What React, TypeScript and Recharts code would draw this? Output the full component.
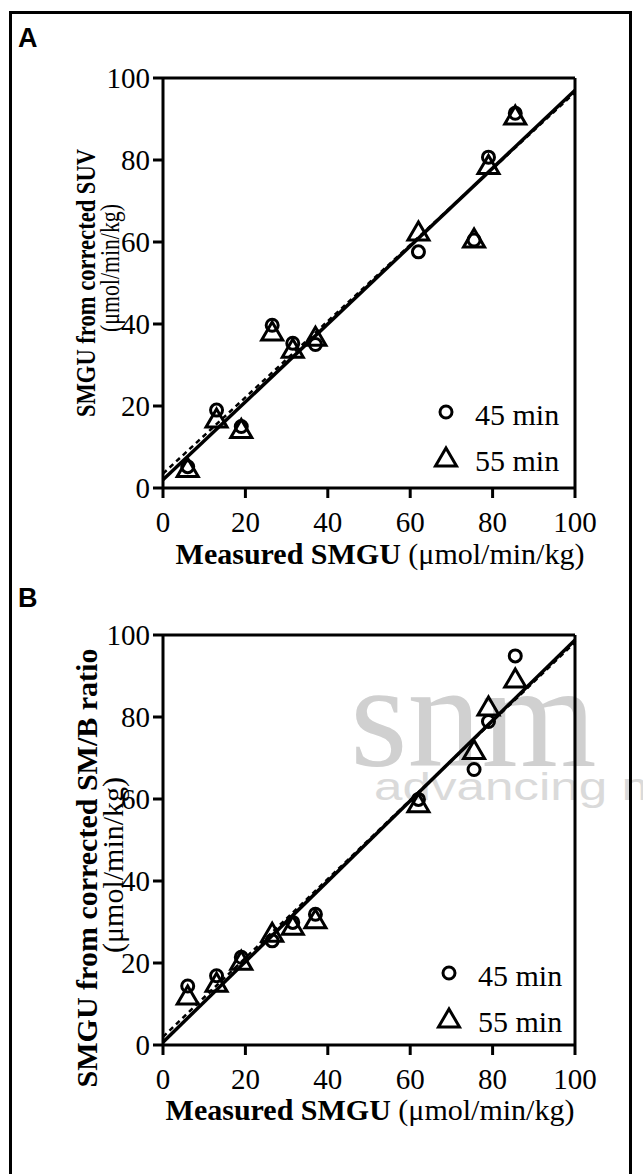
import React from 'react';
import { ScatterChart, Scatter, XAxis, YAxis, ReferenceLine } from 'recharts';

// measured SMGU (x) shared by both panels
const measured = [6, 13, 19, 26.5, 31.5, 37, 62, 75.5, 79, 85.5];

// panel A: SMGU from corrected SUV
const suv45 = [5.2, 19, 15, 39.7, 35.3, 35, 57.6, 60.5, 80.7, 91.4];
const suv55 = [4.5, 16.6, 14, 37.8, 33.6, 36.5, 62.2, 60.5, 78.4, 90.5];

// panel B: SMGU from corrected SM/B ratio
const ratio45 = [14.4, 16.9, 21.4, 25.4, 29.9, 31.9, 59.9, 67.2, 78.9, 94.9];
const ratio55 = [11.7, 14.8, 20.2, 27, 28.7, 30.3, 58.6, 71.6, 82.2, 89];

// regression lines (solid = 45 min, dashed = 55 min)
const suvFitSolid = [{ x: 0, y: 2 }, { x: 100, y: 97 }];
const suvFitDashed = [{ x: 0, y: 3.5 }, { x: 100, y: 96.5 }];
const ratioFitSolid = [{ x: 0, y: 0.7 }, { x: 100, y: 98.8 }];
const ratioFitDashed = [{ x: 0, y: 2 }, { x: 100, y: 98.2 }];

const axisTicks = [0, 20, 40, 60, 80, 100];
const seriesNames = ['45 min', '55 min'];

const serif = '"Liberation Serif", "Times New Roman", serif';
const sans = '"Liberation Sans", Arial, sans-serif';

const toPoints = (ys: number[]) => measured.map((x, i) => ({ x, y: ys[i] }));

const CircleMark = (props: any) => (
  <circle cx={props.cx} cy={props.cy} r={6} fill="none" stroke="#000" strokeWidth={3} />
);

const TriangleMark = (props: any) => {
  const { cx, cy } = props;
  return (
    <path
      d={`M${cx},${cy - 11}L${cx + 10.5},${cy + 7}L${cx - 10.5},${cy + 7}Z`}
      fill="none"
      stroke="#000"
      strokeWidth={3}
    />
  );
};

// legend drawn in page coordinates, inside the plot box
const LegendBox = ({ x, y }: { x: number; y: number }) => (
  <g transform={`translate(${x},${y})`}>
    <CircleMark cx={0} cy={0} />
    <text x={29} y={13} fontFamily={serif} fontSize={30} fill="#000">{seriesNames[0]}</text>
    <TriangleMark cx={0} cy={47} />
    <text x={29} y={59} fontFamily={serif} fontSize={30} fill="#000">{seriesNames[1]}</text>
  </g>
);

interface PanelProps {
  top: number;
  marginTop: number;
  data45: number[];
  data55: number[];
  fitSolid: { x: number; y: number }[];
  fitDashed: { x: number; y: number }[];
}

const Panel: React.FC<PanelProps> = ({ top, marginTop, data45, data55, fitSolid, fitDashed }) => {
  const axisStyle = { stroke: '#000', strokeWidth: 3 };
  return (
    <div style={{ position: 'absolute', left: 0, top }}>
      <ScatterChart
        width={643}
        height={600}
        margin={{ top: marginTop, right: 68, bottom: 600 - marginTop - 410 - 40, left: 103 }}
      >
        <XAxis
          type="number"
          dataKey="x"
          domain={[0, 100]}
          ticks={axisTicks}
          interval={0}
          height={40}
          tickSize={10}
          tickMargin={13}
          axisLine={axisStyle}
          tickLine={axisStyle}
          tick={{ fill: '#000', fontSize: 29, fontFamily: serif }}
        />
        <YAxis
          type="number"
          dataKey="y"
          domain={[0, 100]}
          ticks={axisTicks}
          interval={0}
          width={60}
          tickSize={10}
          tickMargin={3}
          axisLine={axisStyle}
          tickLine={axisStyle}
          tick={{ fill: '#000', fontSize: 29, fontFamily: serif }}
        />
        <ReferenceLine y={100} stroke="#000" strokeWidth={3} />
        <ReferenceLine x={100} stroke="#000" strokeWidth={3} />
        <ReferenceLine segment={fitDashed} stroke="#000" strokeWidth={2.5} strokeDasharray="5 4" />
        <ReferenceLine segment={fitSolid} stroke="#000" strokeWidth={3.5} />
        <Scatter name={seriesNames[1]} data={toPoints(data55)} shape={<TriangleMark />} isAnimationActive={false} />
        <Scatter name={seriesNames[0]} data={toPoints(data45)} shape={<CircleMark />} isAnimationActive={false} />
      </ScatterChart>
    </div>
  );
};

const App = () => {
  return (
    <div style={{ position: 'absolute', left: 0, top: 0, width: 643, height: 1174, background: '#fff', overflow: 'hidden' }}>
      {/* publisher watermark */}
      <svg width={643} height={1174} style={{ position: 'absolute', left: 0, top: 0 }}>
        <text x={350} y={766} fontFamily={serif} fontSize={148} fill="#d0d0d0">snm</text>
        <text x={374} y={800} fontFamily={sans} fontSize={38} fill="#dadada" textLength={290} lengthAdjust="spacingAndGlyphs">advancing m</text>
      </svg>
      <div style={{ position: 'absolute', left: 9, top: 11, width: 623, height: 1176, border: '3px solid #000', boxSizing: 'border-box' }} />
      <Panel top={0} marginTop={78} data45={suv45} data55={suv55} fitSolid={suvFitSolid} fitDashed={suvFitDashed} />
      <Panel top={560} marginTop={75} data45={ratio45} data55={ratio55} fitSolid={ratioFitSolid} fitDashed={ratioFitDashed} />
      <svg width={643} height={1174} style={{ position: 'absolute', left: 0, top: 0, pointerEvents: 'none' }}>
        <text x={18} y={47} fontFamily={sans} fontWeight="bold" fontSize={27} fill="#000">A</text>
        <text x={18} y={607} fontFamily={sans} fontWeight="bold" fontSize={27} fill="#000">B</text>

        <LegendBox x={446} y={412} />
        <LegendBox x={449} y={973} />

        <text x={380} y={564} textAnchor="middle" fontFamily={serif} fontSize={30} fill="#000">
          <tspan fontWeight="bold">Measured SMGU</tspan>
          <tspan> (μmol/min/kg)</tspan>
        </text>
        <text x={370} y={1120} textAnchor="middle" fontFamily={serif} fontSize={30} fill="#000">
          <tspan fontWeight="bold">Measured SMGU</tspan>
          <tspan> (μmol/min/kg)</tspan>
        </text>

        <text transform="translate(95,283) rotate(-90)" textAnchor="middle" fontFamily={serif} fontWeight="bold" fontSize={28} fill="#000" textLength={268} lengthAdjust="spacingAndGlyphs">
          SMGU from corrected SUV
        </text>
        <text transform="translate(119,268) rotate(-90)" textAnchor="middle" fontFamily={serif} fontSize={27} fill="#000" textLength={128} lengthAdjust="spacingAndGlyphs">
          (μmol/min/kg)
        </text>
        <text transform="translate(97,868) rotate(-90)" textAnchor="middle" fontFamily={serif} fontWeight="bold" fontSize={30} fill="#000">
          SMGU from corrected SM/B ratio
        </text>
        <text transform="translate(123,865) rotate(-90)" textAnchor="middle" fontFamily={serif} fontSize={30} fill="#000">
          (μmol/min/kg)
        </text>
      </svg>
    </div>
  );
};

export default App;
